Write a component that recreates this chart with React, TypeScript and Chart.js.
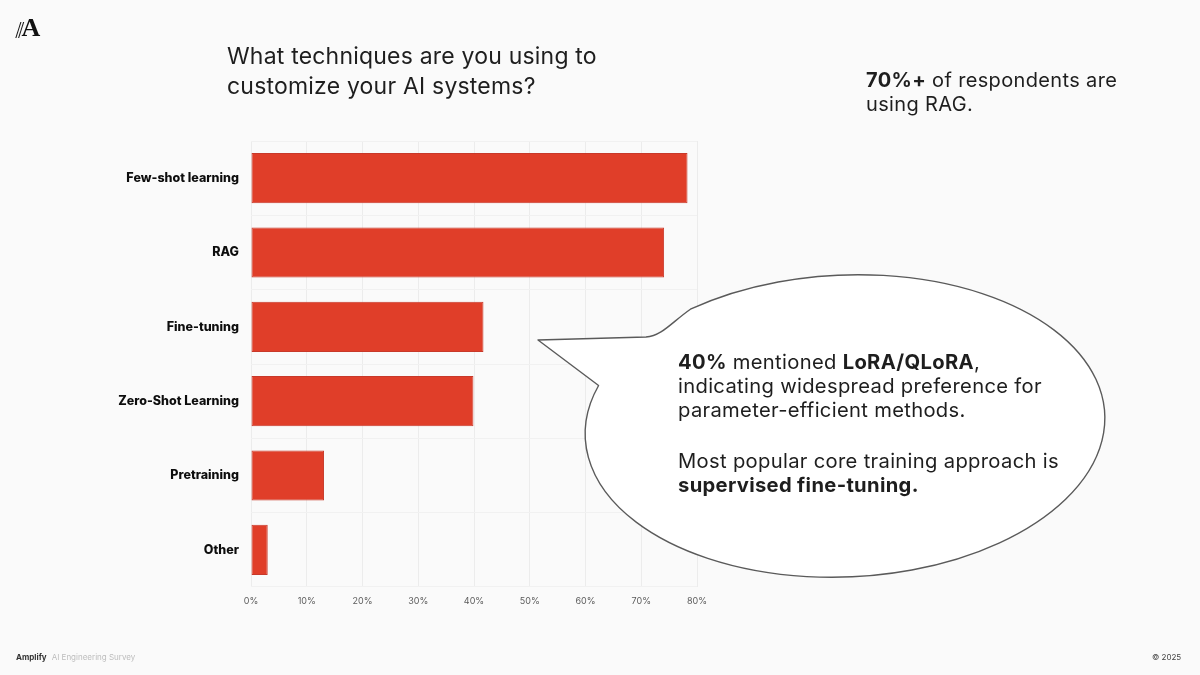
import React, { useEffect, useRef } from "react";
import { Chart, registerables } from "chart.js";

Chart.register(...registerables);

const categories = [
  "Few-shot learning",
  "RAG",
  "Fine-tuning",
  "Zero-Shot Learning",
  "Pretraining",
  "Other",
];
const shares = [78.3, 74.1, 41.7, 39.9, 13.1, 3.0];
const axisMax = 80;
const axisStep = 10;

const BAR_RED = "#e03e29";
const FONT = "Inter, 'Noto Sans', sans-serif";

// Speech bubble drawn behind the callout text
const bubblePlugin = {
  id: "speechBubble",
  afterDraw(chart: Chart) {
    const ctx = chart.ctx;
    const cx = 845;
    const cy = 426;
    const rx = 260;
    const ry = 151;
    const rot = (-2.6 * Math.PI) / 180;
    const t1 = (235 * Math.PI) / 180;
    const t2 = (560 * Math.PI) / 180;
    const pt = (t: number) => {
      const ex = rx * Math.cos(t);
      const ey = ry * Math.sin(t);
      return {
        x: cx + ex * Math.cos(rot) - ey * Math.sin(rot),
        y: cy + ex * Math.sin(rot) + ey * Math.cos(rot),
      };
    };
    const p1 = pt(t1);
    ctx.save();
    ctx.beginPath();
    ctx.moveTo(538, 340);
    ctx.lineTo(646, 337);
    ctx.bezierCurveTo(662, 336, 672, 322, p1.x, p1.y);
    ctx.ellipse(cx, cy, rx, ry, rot, t1, t2, false);
    ctx.lineTo(538, 340);
    ctx.closePath();
    ctx.fillStyle = "#ffffff";
    ctx.fill();
    ctx.lineWidth = 1.4;
    ctx.strokeStyle = "#5a5a5a";
    ctx.lineJoin = "round";
    ctx.stroke();
    ctx.restore();
  },
};

function SurveyChart() {
  const canvasRef = useRef<HTMLCanvasElement | null>(null);

  useEffect(() => {
    if (!canvasRef.current) return;
    const chart = new Chart(canvasRef.current, {
      type: "bar",
      data: {
        labels: categories,
        datasets: [
          {
            data: shares,
            backgroundColor: BAR_RED,
            borderColor: "#c8392a",
            borderWidth: 1,
            borderSkipped: false,
            barPercentage: 0.9,
            categoryPercentage: 0.75,
          },
        ],
      },
      options: {
        indexAxis: "y",
        responsive: false,
        animation: false,
        devicePixelRatio: 1,
        layout: { padding: { top: 141, right: 503, bottom: 58, left: 0 } },
        plugins: {
          legend: { display: false },
          tooltip: { enabled: false },
        },
        scales: {
          x: {
            min: 0,
            max: axisMax,
            afterFit: (scale: any) => {
              scale.height = 30;
            },
            ticks: {
              stepSize: axisStep,
              padding: 9,
              color: "#5c5c5c",
              font: { family: FONT, size: 9 },
              callback: (v: any) => `${v}%`,
            },
            grid: { color: "#ececec", lineWidth: 1, drawTicks: false },
            border: { display: false },
          },
          y: {
            afterFit: (scale: any) => {
              scale.width = 251;
            },
            ticks: {
              padding: 12,
              color: "#0d0d0d",
              font: { family: FONT, size: 12.5, weight: 800 },
            },
            grid: { color: "#f1f1f1", lineWidth: 1, drawTicks: false, offset: true },
            border: { display: false },
          },
        },
      },
      plugins: [bubblePlugin],
    });
    return () => chart.destroy();
  }, []);

  return (
    <canvas
      ref={canvasRef}
      width={1200}
      height={675}
      style={{ position: "absolute", left: 0, top: 0, width: 1200, height: 675 }}
    />
  );
}

export default function App() {
  const abs = (extra: React.CSSProperties): React.CSSProperties => ({
    position: "absolute",
    fontFamily: FONT,
    whiteSpace: "nowrap",
    ...extra,
  });

  return (
    <div
      style={{
        position: "fixed",
        left: 0,
        top: 0,
        width: 1200,
        height: 675,
        background: "#fafafa",
        overflow: "hidden",
      }}
    >
      <SurveyChart />

      <div style={abs({ left: 15, top: 12, fontSize: 26, lineHeight: "30px", color: "#111" })}>
        <span style={{ fontFamily: "'DejaVu Sans', sans-serif", fontWeight: 300, fontSize: 20, letterSpacing: -4 }}>//</span>
        <span style={{ fontFamily: "'Liberation Serif', serif", fontWeight: 700, marginLeft: 1 }}>A</span>
      </div>

      <div style={abs({ left: 227, top: 41, fontSize: 23, lineHeight: "30px", letterSpacing: 0.2, color: "#1e1e1e" })}>
        What techniques are you using to
        <br />
        customize your AI systems?
      </div>

      <div style={abs({ left: 866, top: 68, fontSize: 20, lineHeight: "24px", letterSpacing: 0.35, color: "#1e1e1e" })}>
        <b>70%+</b> of respondents are
        <br />
        using RAG.
      </div>

      <div style={abs({ left: 678, top: 350, fontSize: 20.2, lineHeight: "24px", letterSpacing: 0.32, color: "#1e1e1e" })}>
        <b>40%</b> mentioned <b>LoRA/QLoRA</b>,
        <br />
        indicating widespread preference for
        <br />
        parameter-efficient methods.
      </div>

      <div style={abs({ left: 678, top: 449, fontSize: 20.2, lineHeight: "24px", letterSpacing: 0.32, color: "#1e1e1e" })}>
        Most popular core training approach is
        <br />
        <b>supervised fine-tuning.</b>
      </div>

      <div style={abs({ left: 16, top: 651, fontSize: 8, lineHeight: "12px" })}>
        <span style={{ color: "#333", fontWeight: 700 }}>Amplify</span>
        <span style={{ color: "#bdbdbd", marginLeft: 5 }}>AI Engineering Survey</span>
      </div>

      <div style={abs({ left: 1152, top: 651, fontSize: 8, lineHeight: "12px", color: "#444" })}>
        © 2025
      </div>
    </div>
  );
}
